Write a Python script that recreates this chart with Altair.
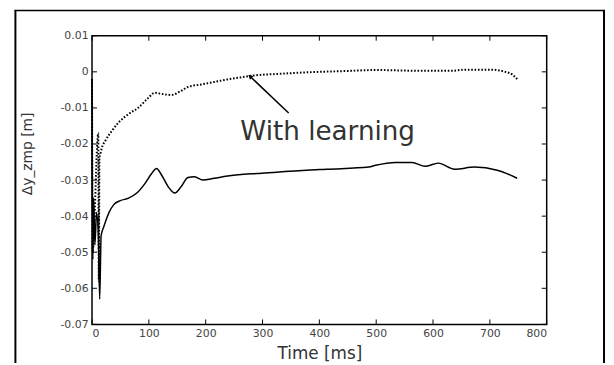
import altair as alt
import pandas as pd

# ---- data ----
t_plain = [0, 1.5, 3, 5, 8, 11, 13.5, 16, 21, 29.6, 38.3, 49.9, 64.3, 78.8, 93.4, 104.9, 113.6,
           122.3, 133.9, 145.6, 157.0, 168.7, 180.3, 194.8, 215.1, 238.3, 267.3, 290.4, 325,
           412, 487, 499, 534, 563, 586, 609, 638, 673, 713, 730, 748]
y_plain = [-0.002, -0.052, -0.035, -0.048, -0.039, -0.045, -0.063, -0.0455, -0.0428, -0.0391,
           -0.0368, -0.0357, -0.0350, -0.0336, -0.0309, -0.0282, -0.0268, -0.0286, -0.0318,
           -0.0336, -0.0318, -0.0293, -0.0291, -0.0300, -0.0295, -0.0289, -0.0284, -0.0282,
           -0.0278, -0.0270, -0.0264, -0.0259, -0.0251, -0.0251, -0.0262, -0.0253, -0.0270,
           -0.0264, -0.0273, -0.0282, -0.0295]

t_learn = [0, 1, 11, 12, 13, 14.5, 16.9, 23.8, 35.3, 47.0, 64.3, 81.7, 99.1, 110.8, 122.3, 139.7,
           154.3, 168.7, 191.8, 215.1, 238.3, 267.3, 284.7, 325, 383, 442, 499, 574, 633, 656,
           703, 725, 740, 748]
y_learn = [-0.002, -0.050, -0.017, -0.058, -0.024, -0.023, -0.0213, -0.0190, -0.0163, -0.0140,
           -0.0117, -0.0099, -0.0072, -0.0058, -0.0061, -0.0064, -0.0055, -0.0042, -0.0035,
           -0.0028, -0.0021, -0.0014, -0.0010, -0.0006, -0.0001, 0.0002, 0.0005, 0.0003, 0.0003,
           0.0006, 0.0006, 0.0001, -0.0008, -0.0020]

x_ticks = [0, 100, 200, 300, 400, 500, 600, 700, 800]
y_ticks = [-0.07, -0.06, -0.05, -0.04, -0.03, -0.02, -0.01, 0, 0.01]

note_label = ["With learning"]
note_pos = [(261, -0.019)]
arrow_t = [346, 279]
arrow_y = [-0.0114, -0.0014]

W, H = 460, 292
PAD = {"left": 85, "top": 26, "right": 60, "bottom": 39}
FONT = "DejaVu Sans"

df_plain = pd.DataFrame({"t": t_plain, "y": y_plain})
df_learn = pd.DataFrame({"t": t_learn, "y": y_learn})
df_xt = pd.DataFrame({"t": x_ticks})
df_yt = pd.DataFrame({"y": y_ticks})
df_note = pd.DataFrame({"t": [p[0] for p in note_pos], "y": [p[1] for p in note_pos], "label": note_label})
df_arrow = pd.DataFrame({"t": arrow_t, "y": arrow_y, "o": [0, 1]})

xs = alt.Scale(domain=[0, 800], nice=False, zero=False)
ys = alt.Scale(domain=[-0.07, 0.01], nice=False, zero=False)

xax = alt.Axis(values=x_ticks, title="Time [ms]", titleY=35, titleBaseline="alphabetic")
yax = alt.Axis(values=y_ticks, tickCount=9,
               labelExpr="abs(datum.value) < 1e-9 ? '0' : replace(format(datum.value, '.2~f'), '\u2212', '-')",
               title="\u0394y_zmp [m]", titleX=-65, titleY=119, titleAngle=270,
               titleAlign="center", titleBaseline="middle")

X = alt.X("t:Q", scale=xs, axis=xax)
Y = alt.Y("y:Q", scale=ys, axis=yax)

plain = alt.Chart(df_plain).mark_line(color="black", strokeWidth=1.5, interpolate="monotone").encode(
    x=X, y=Y, order="t:Q")
learn = alt.Chart(df_learn).mark_line(color="black", strokeWidth=2, strokeDash=[1.6, 1.8],
                                      interpolate="monotone").encode(x=X, y=Y, order="t:Q")

tick_b = alt.Chart(df_xt).mark_rule(color="black", strokeWidth=1).encode(
    x=X, y=alt.value(H), y2=alt.value(H - 5))
tick_t = alt.Chart(df_xt).mark_rule(color="black", strokeWidth=1).encode(
    x=X, y=alt.value(0), y2=alt.value(5))
tick_l = alt.Chart(df_yt).mark_rule(color="black", strokeWidth=1).encode(
    y=Y, x=alt.value(0), x2=alt.value(5))
tick_r = alt.Chart(df_yt).mark_rule(color="black", strokeWidth=1).encode(
    y=Y, x=alt.value(W), x2=alt.value(W - 5))

note = alt.Chart(df_note).mark_text(align="left", baseline="alphabetic", fontSize=26.5,
                                    font=FONT, color="#333").encode(x=X, y=Y, text="label:N")
arrow = alt.Chart(df_arrow).mark_line(color="black", strokeWidth=1.5).encode(x=X, y=Y, order="o:Q")
head = alt.Chart(df_arrow[df_arrow.o == 1]).mark_point(shape="triangle", filled=True, color="black",
                                                       size=28, angle=313, opacity=1).encode(x=X, y=Y)

# outer figure frame
frame_l = alt.Chart(df_xt.head(1)).mark_rule(color="black", strokeWidth=2, clip=False).encode(
    x=alt.value(-77.5), y=alt.value(-25.5), y2=alt.value(H + PAD["bottom"]))
frame_r = alt.Chart(df_xt.head(1)).mark_rule(color="black", strokeWidth=2, clip=False).encode(
    x=alt.value(518), y=alt.value(-25.5), y2=alt.value(H + PAD["bottom"]))
frame_t = alt.Chart(df_xt.head(1)).mark_rule(color="black", strokeWidth=1.5, clip=False).encode(
    y=alt.value(-25.5), x=alt.value(-78.5), x2=alt.value(519))

chart = alt.layer(plain, learn, tick_b, tick_t, tick_l, tick_r, note, arrow, head,
                  frame_l, frame_r, frame_t).properties(
    width=W, height=H, padding=PAD, background="white",
    autosize=alt.AutoSizeParams(type="none")
).configure_view(stroke="black", strokeWidth=1.5
).configure_axis(
    ticks=False, domain=False, grid=False, labelOverlap=False, labelFontSize=11,
    labelColor="#444", labelFont=FONT, titleFont=FONT, titleFontWeight="normal",
    titleColor="#333"
).configure_axisX(labelPadding=3, titleFontSize=17
).configure_axisY(labelPadding=4, titleFontSize=14)

chart.save("out.html", embed_options={"renderer": "svg", "actions": False})
